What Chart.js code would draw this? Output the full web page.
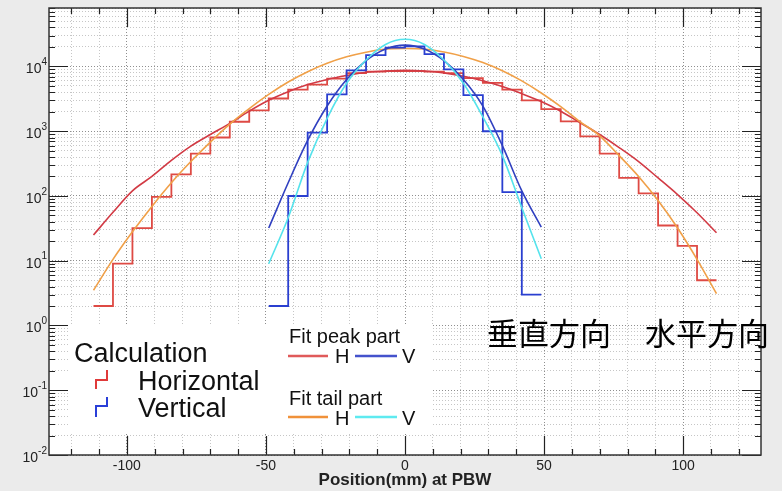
<!DOCTYPE html>
<html lang="ja">
<head>
<meta charset="UTF-8">
<title>Beam profile at PBW</title>
<script src="https://cdn.jsdelivr.net/npm/chart.js"></script>
<style>
  html, body { margin: 0; padding: 0; background: #ebebeb; }
  #wrap { position: relative; width: 782px; height: 491px; }
</style>
</head>
<body>
<div id="wrap"><canvas id="profile"></canvas></div>
<script>
  // histogram bin edges (mm) and counts
  const hEdges = [-112, -105, -98, -91, -84, -77, -70, -63, -56, -49, -42, -35, -28, -21, -14, -7, 0,
                  7, 14, 21, 28, 35, 42, 49, 56, 63, 70, 77, 84, 91, 98, 105, 112];
  const hCalc = [2, 9, 32, 97, 215, 450, 800, 1400, 2100, 3200, 4400, 5250, 6500, 7900, 8300, 8500,
                 8500, 8300, 7900, 6600, 5600, 4400, 3000, 2200, 1420, 830, 450, 190, 110, 35, 17, 5];
  const vEdges = [-49, -42, -35, -28, -21, -14, -7, 0, 7, 14, 21, 28, 35, 42, 49];
  const vCalc = [2, 100, 950, 3700, 8700, 15000, 19500, 20400, 15500, 9000, 3600, 1000, 115, 3];

  // fitted curves, sampled at the same positions
  const hFitPos = hEdges;
  const hPeakFit = [25, 56, 120, 200, 355, 590, 890, 1320, 2040, 3000, 4070, 5250, 6300, 7240, 8130, 8500, 8700,
                    8500, 7950, 7080, 6030, 4900, 3800, 2880, 2040, 1350, 890, 560, 340, 190, 105, 55, 27];
  const hTailFit = [3.5, 10.5, 28, 69, 160, 340, 680, 1290, 2240, 3700, 5750, 8300, 11200, 14100, 16600, 18600, 19000,
                    18600, 16700, 14300, 11500, 8600, 6000, 3900, 2400, 1400, 850, 420, 200, 85, 32, 10.5, 3.1];
  const vFitPos = vEdges;
  const vPeakFit = [32, 160, 720, 2450, 6300, 12300, 18600, 21400, 18600, 12300, 6300, 2450, 600, 120, 33];
  const vTailFit = [9, 46, 330, 1580, 5500, 12600, 21900, 26300, 21900, 12600, 5500, 1660, 420, 66, 10.7];

  const xTickLabels = [-100, -50, 0, 50, 100];
  const yExponents = [-2, -1, 0, 1, 2, 3, 4];
  const xMin = -128, xMax = 128, yMin = 0.01, yMax = 80000;

  const LATIN = '"Liberation Sans", Arial, sans-serif';
  const CJK = '"Noto Sans CJK JP", "Noto Sans CJK SC", sans-serif';

  function stepPoints(edges, vals) {
    return edges.map((e, i) => ({ x: e, y: vals[Math.min(i, vals.length - 1)] }));
  }
  function curvePoints(pos, vals) {
    return pos.map((p, i) => ({ x: p, y: vals[i] }));
  }
  function isDecade(v) {
    const l = Math.log10(v);
    return Math.abs(l - Math.round(l)) < 1e-9;
  }

  const yGridValues = [];
  yExponents.forEach(e => {
    for (let m = 1; m <= 9; m++) {
      const v = m * Math.pow(10, e);
      if (v <= yMax * 1.0001) yGridValues.push(v);
    }
  });
  const xGridValues = [];
  for (let v = -120; v <= 120; v += 10) xGridValues.push(v);

  const chartBack = {
    id: 'chartBack',
    beforeDraw(chart) {
      const { ctx, chartArea: a } = chart;
      ctx.save();
      ctx.fillStyle = '#ebebeb';
      ctx.fillRect(0, 0, chart.width, chart.height);
      ctx.fillStyle = '#ffffff';
      ctx.fillRect(a.left, a.top, a.right - a.left, a.bottom - a.top);
      ctx.restore();
    },
    beforeDatasetsDraw(chart) {
      // white legend panel hides the grid
      const ctx = chart.ctx;
      ctx.save();
      ctx.fillStyle = '#ffffff';
      ctx.fillRect(70, 324, 363, 109);
      ctx.restore();
    }
  };

  const frameAndText = {
    id: 'frameAndText',
    afterDraw(chart) {
      const { ctx, chartArea: a } = chart;
      const xs = chart.scales.x, ys = chart.scales.y;
      ctx.save();

      // inward ticks on all four sides
      ctx.strokeStyle = '#222';
      ctx.lineWidth = 1.2;
      ctx.beginPath();
      yGridValues.forEach(v => {
        const y = Math.round(ys.getPixelForValue(v)) + 0.5;
        const len = isDecade(v) ? 19 : 6;
        ctx.moveTo(a.left, y); ctx.lineTo(a.left + len, y);
        ctx.moveTo(a.right, y); ctx.lineTo(a.right - len, y);
      });
      xGridValues.forEach(v => {
        const x = Math.round(xs.getPixelForValue(v)) + 0.5;
        const len = v % 50 === 0 ? 19 : 6;
        ctx.moveTo(x, a.bottom); ctx.lineTo(x, a.bottom - len);
        ctx.moveTo(x, a.top); ctx.lineTo(x, a.top + len);
      });
      ctx.stroke();

      ctx.lineWidth = 1.5;
      ctx.strokeStyle = '#333';
      ctx.strokeRect(a.left, a.top, a.right - a.left, a.bottom - a.top);

      // tick labels
      ctx.fillStyle = '#222';
      ctx.textBaseline = 'middle';
      ctx.textAlign = 'center';
      ctx.font = '14px ' + LATIN;
      xTickLabels.forEach(v => {
        ctx.fillText(String(v), xs.getPixelForValue(v), 466);
      });
      ctx.textAlign = 'right';
      yExponents.forEach(e => {
        const y = ys.getPixelForValue(Math.pow(10, e));
        const exp = String(e);
        ctx.font = '10px ' + LATIN;
        const w = ctx.measureText(exp).width;
        ctx.fillText(exp, 47, y - 4);
        ctx.font = '14px ' + LATIN;
        ctx.fillText('10', 47 - w, y + 3);
      });

      // legend: calculation
      ctx.textAlign = 'left';
      ctx.textBaseline = 'alphabetic';
      ctx.fillStyle = '#111';
      ctx.font = '27px ' + LATIN;
      ctx.fillText('Calculation', 74, 362);
      ctx.fillText('Horizontal', 138, 390);
      ctx.fillText('Vertical', 138, 417);
      ctx.lineWidth = 2;
      ctx.strokeStyle = '#e03a3a';
      ctx.beginPath();
      ctx.moveTo(96, 389); ctx.lineTo(96, 380); ctx.lineTo(107, 380); ctx.lineTo(107, 370);
      ctx.stroke();
      ctx.strokeStyle = '#2a3fd8';
      ctx.beginPath();
      ctx.moveTo(96, 417); ctx.lineTo(96, 406); ctx.lineTo(107, 406); ctx.lineTo(107, 397);
      ctx.stroke();

      // legend: fits
      ctx.font = '20px ' + LATIN;
      ctx.fillText('Fit peak part', 289, 343);
      ctx.fillText('H', 335, 363);
      ctx.fillText('V', 402, 363);
      ctx.fillText('Fit tail part', 289, 405);
      ctx.fillText('H', 335, 425);
      ctx.fillText('V', 402, 425);
      const legendLine = (color, x0, x1, y) => {
        ctx.strokeStyle = color;
        ctx.lineWidth = 2.5;
        ctx.beginPath();
        ctx.moveTo(x0, y); ctx.lineTo(x1, y);
        ctx.stroke();
      };
      legendLine('#e05a5a', 288, 328, 356);
      legendLine('#4452cc', 355, 397, 356);
      legendLine('#f0913a', 288, 328, 417);
      legendLine('#5eeaf0', 355, 397, 417);

      // direction labels
      ctx.fillStyle = '#000';
      ctx.font = '31px ' + CJK;
      ctx.fillText('垂直方向', 487, 345);
      ctx.fillText('水平方向', 645, 345);

      ctx.restore();
    }
  };

  const gridColor = major => major ? '#8e8e8e' : '#c6c6c6';

  new Chart(document.getElementById('profile'), {
    type: 'line',
    data: {
      datasets: [
        { label: 'Fit tail V', data: curvePoints(vFitPos, vTailFit), borderColor: '#55e3ec', borderWidth: 1.6,
          pointRadius: 0, cubicInterpolationMode: 'monotone' },
        { label: 'Fit peak V', data: curvePoints(vFitPos, vPeakFit), borderColor: '#3040c0', borderWidth: 1.6,
          pointRadius: 0, cubicInterpolationMode: 'monotone' },
        { label: 'Vertical', data: stepPoints(vEdges, vCalc), borderColor: '#2a3fd0', borderWidth: 1.8,
          pointRadius: 0, stepped: true },
        { label: 'Fit tail H', data: curvePoints(hFitPos, hTailFit), borderColor: '#f0a048', borderWidth: 1.6,
          pointRadius: 0, cubicInterpolationMode: 'monotone' },
        { label: 'Fit peak H', data: curvePoints(hFitPos, hPeakFit), borderColor: '#d23a44', borderWidth: 1.6,
          pointRadius: 0, cubicInterpolationMode: 'monotone' },
        { label: 'Horizontal', data: stepPoints(hEdges, hCalc), borderColor: '#de4a44', borderWidth: 1.8,
          pointRadius: 0, stepped: true }
      ]
    },
    options: {
      responsive: true,
      maintainAspectRatio: false,
      animation: false,
      layout: { padding: { left: 0, right: 21, top: 8, bottom: 0 } },
      plugins: { legend: { display: false }, tooltip: { enabled: false } },
      scales: {
        x: {
          type: 'linear', min: xMin, max: xMax,
          ticks: { display: false },
          afterBuildTicks: s => { s.ticks = xGridValues.map(v => ({ value: v })); },
          afterFit: s => { s.height = 36; },
          grid: { drawTicks: false, lineWidth: 1, color: c => gridColor(c.tick && c.tick.value % 50 === 0) },
          border: { display: false, dash: [1, 2] },
          title: { display: true, text: 'Position(mm) at PBW', color: '#222',
                   font: { family: LATIN, size: 17, weight: 'bold' }, padding: { top: 0, bottom: 0 } }
        },
        y: {
          type: 'logarithmic', min: yMin, max: yMax,
          ticks: { display: false },
          afterBuildTicks: s => { s.ticks = yGridValues.map(v => ({ value: v })); },
          afterFit: s => { s.width = 49; },
          grid: { drawTicks: false, lineWidth: 1, color: c => gridColor(c.tick && isDecade(c.tick.value)) },
          border: { display: false, dash: [1, 2] }
        }
      }
    },
    plugins: [chartBack, frameAndText]
  });
</script>
</body>
</html>
